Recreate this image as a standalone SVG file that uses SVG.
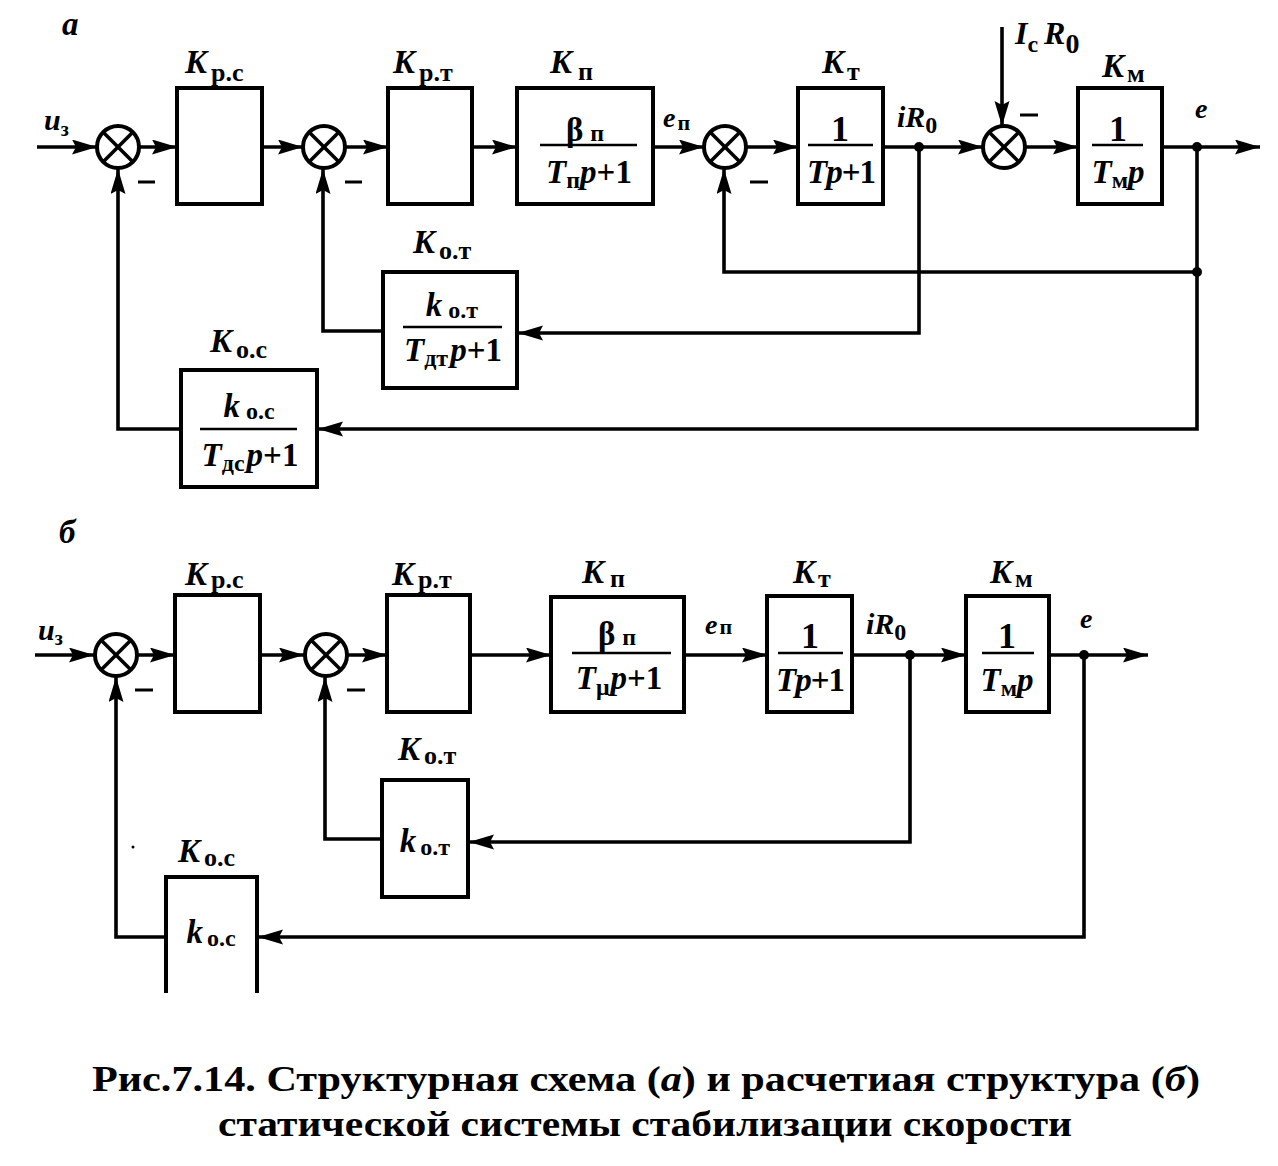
<svg xmlns="http://www.w3.org/2000/svg" width="1278" height="1166" viewBox="0 0 1278 1166">
<style>
.bg{fill:#fff}
.box{fill:none;stroke:#000;stroke-width:4}
.ln{fill:none;stroke:#000;stroke-width:3.6}
.arr{marker-end:url(#ah)}
.sum circle{fill:#fff;stroke:#000;stroke-width:4}
.sum line{stroke:#000;stroke-width:3.6}
.dot{fill:#000}
.minus{stroke:#000;stroke-width:3}
text{font-family:"Liberation Serif","DejaVu Serif",serif;font-weight:bold;fill:#000}
.it{font-style:italic}
.k{font-size:33px;font-style:italic}
.s{font-size:26px;font-style:normal}
.fr{font-size:33px}
.one{font-size:36px}
.fs{font-size:24px;font-style:normal}
.fl{stroke:#000;stroke-width:2.5}
.cap{font-size:35px}
</style>
<defs>
<marker id="ah" markerUnits="userSpaceOnUse" markerWidth="26" markerHeight="16" refX="25" refY="7.5" orient="auto">
<path d="M0,0 L25,7.5 L0,15 L4,7.5 z" fill="#000"/>
</marker>
</defs>
<rect class="bg" x="0" y="0" width="1278" height="1166"/>

<!-- ===================== Diagram a ===================== -->
<text class="k" x="62" y="35">a</text>

<g id="connectors-a">
<path class="ln arr" d="M37,147 H97"/>
<path class="ln arr" d="M139,147 H177"/>
<path class="ln arr" d="M262,147 H303"/>
<path class="ln arr" d="M345,147 H388"/>
<path class="ln arr" d="M472,147 H517"/>
<path class="ln arr" d="M653,147 H704"/>
<path class="ln arr" d="M746,147 H798"/>
<path class="ln arr" d="M883,147 H983"/>
<path class="ln arr" d="M1002,27 V126"/>
<path class="ln arr" d="M1025,147 H1078"/>
<path class="ln arr" d="M1162,147 H1260"/>
<path class="ln arr" d="M1197,147 V429 H318"/>
<path class="ln arr" d="M1197,272 H724 V169"/>
<path class="ln arr" d="M919,147 V333 H518"/>
<path class="ln arr" d="M383,331 H323 V169"/>
<path class="ln arr" d="M181,429 H118 V169"/>
<circle class="dot" cx="919" cy="147" r="5"/>
<circle class="dot" cx="1197" cy="147" r="5"/>
<circle class="dot" cx="1197" cy="272" r="5"/>
</g>

<g id="a-sum1" class="sum"><circle cx="118" cy="147" r="21"/><line x1="103" y1="132" x2="133" y2="162"/><line x1="133" y1="132" x2="103" y2="162"/></g>
<g id="a-sum2" class="sum"><circle cx="324" cy="147" r="21"/><line x1="309" y1="132" x2="339" y2="162"/><line x1="339" y1="132" x2="309" y2="162"/></g>
<g id="a-sum3" class="sum"><circle cx="725" cy="147" r="21"/><line x1="710" y1="132" x2="740" y2="162"/><line x1="740" y1="132" x2="710" y2="162"/></g>
<g id="a-sum4" class="sum"><circle cx="1004" cy="147" r="21"/><line x1="989" y1="132" x2="1019" y2="162"/><line x1="1019" y1="132" x2="989" y2="162"/></g>

<g id="a-minus">
<line class="minus" x1="138" y1="182" x2="155" y2="182"/>
<line class="minus" x1="345" y1="182" x2="362" y2="182"/>
<line class="minus" x1="750" y1="182" x2="768" y2="182"/>
<line class="minus" x1="1020" y1="115" x2="1038" y2="115"/>
</g>

<g id="a-signals">
<text class="k" x="44" y="130" style="font-size:30px">u<tspan class="s" dy="6" style="font-size:20px">з</tspan></text>
<text class="k" x="663" y="127" style="font-size:28px">e<tspan class="s" dy="3" dx="2" style="font-size:22px">п</tspan></text>
<text class="k" x="897" y="127" style="font-size:30px">iR<tspan class="s" dy="6" style="font-size:24px">0</tspan></text>
<text class="k" x="1195" y="118" style="font-size:28px">e</text>
<text class="k" x="1015" y="44" style="font-size:32px">I<tspan class="s" dy="8" style="font-size:24px">c</tspan><tspan dy="-8" dx="6">R</tspan><tspan class="s" dy="9" style="font-size:28px">0</tspan></text>
</g>

<g id="a-Kpc">
<rect class="box" x="177" y="88" width="85" height="116"/>
<text class="k" x="185" y="73">K<tspan class="s" dx="4" dy="8">р.с</tspan></text>
</g>
<g id="a-Kpt">
<rect class="box" x="388" y="88" width="84" height="116"/>
<text class="k" x="393" y="73">K<tspan class="s" dx="4" dy="8">р.т</tspan></text>
</g>
<g id="a-Kp">
<rect class="box" x="517" y="88" width="136" height="116"/>
<text class="k" x="550" y="73">K<tspan class="s" dx="6" dy="7">п</tspan></text>
<text class="fr" x="585" y="141" text-anchor="middle">β<tspan class="fs" dx="7">п</tspan></text>
<line class="fl" x1="540" y1="145" x2="637" y2="145"/>
<text class="fr" x="589" y="183" text-anchor="middle"><tspan class="it">T</tspan><tspan class="fs" dy="5">п</tspan><tspan class="it" dy="-5">p</tspan>+1</text>
</g>
<g id="a-Kt">
<rect class="box" x="798" y="88" width="85" height="116"/>
<text class="k" x="822" y="73">K<tspan class="s" dx="3" dy="7">т</tspan></text>
<text class="one" x="840" y="141" text-anchor="middle">1</text>
<line class="fl" x1="808" y1="145" x2="873" y2="145"/>
<text class="fr" x="841" y="183" text-anchor="middle" style="letter-spacing:-1px"><tspan class="it">Tp</tspan>+1</text>
</g>
<g id="a-Km">
<rect class="box" x="1078" y="88" width="84" height="116"/>
<text class="k" x="1102" y="77">K<tspan class="s" dx="3" dy="5">м</tspan></text>
<text class="one" x="1118" y="141" text-anchor="middle">1</text>
<line class="fl" x1="1092" y1="145" x2="1143" y2="145"/>
<text class="fr" x="1118" y="183" text-anchor="middle"><tspan class="it">T</tspan><tspan class="fs" dy="5">м</tspan><tspan class="it" dy="-5">p</tspan></text>
</g>
<g id="a-Kot">
<rect class="box" x="383" y="272" width="134" height="116"/>
<text class="k" x="413" y="253">K<tspan class="s" dx="4" dy="6">о.т</tspan></text>
<text class="fr" x="452" y="316" text-anchor="middle"><tspan class="it">k</tspan><tspan class="fs" dx="6" dy="2">о.т</tspan></text>
<line class="fl" x1="403" y1="327" x2="502" y2="327"/>
<text class="fr" x="453" y="361" text-anchor="middle"><tspan class="it">T</tspan><tspan class="fs" dy="5">дт</tspan><tspan class="it" dy="-5" dx="2">p</tspan>+1</text>
</g>
<g id="a-Koc">
<rect class="box" x="181" y="370" width="136" height="117"/>
<text class="k" x="210" y="352">K<tspan class="s" dx="4" dy="6">о.с</tspan></text>
<text class="fr" x="249" y="417" text-anchor="middle"><tspan class="it">k</tspan><tspan class="fs" dx="6" dy="2">о.с</tspan></text>
<line class="fl" x1="200" y1="429" x2="297" y2="429"/>
<text class="fr" x="250" y="466" text-anchor="middle"><tspan class="it">T</tspan><tspan class="fs" dy="5">дс</tspan><tspan class="it" dy="-5" dx="2">p</tspan>+1</text>
</g>

<!-- ===================== Diagram b ===================== -->
<text class="k" x="59" y="543">б</text>

<g id="connectors-b">
<path class="ln arr" d="M35,655 H94"/>
<path class="ln arr" d="M138,655 H175"/>
<path class="ln arr" d="M260,655 H304"/>
<path class="ln arr" d="M348,655 H387"/>
<path class="ln arr" d="M470,655 H551"/>
<path class="ln arr" d="M684,655 H767"/>
<path class="ln arr" d="M852,655 H966"/>
<path class="ln arr" d="M1049,655 H1148"/>
<path class="ln arr" d="M1084,655 V937 H258"/>
<path class="ln arr" d="M910,655 V842 H469"/>
<path class="ln arr" d="M382,839 H325 V677"/>
<path class="ln arr" d="M166,937 H116 V677"/>
<circle class="dot" cx="910" cy="655" r="5"/>
<circle class="dot" cx="1084" cy="655" r="5"/>
<circle class="dot" cx="133" cy="847" r="1.5"/>
</g>

<g id="b-sum1" class="sum"><circle cx="116" cy="655" r="21"/><line x1="101" y1="640" x2="131" y2="670"/><line x1="131" y1="640" x2="101" y2="670"/></g>
<g id="b-sum2" class="sum"><circle cx="326" cy="655" r="21"/><line x1="311" y1="640" x2="341" y2="670"/><line x1="341" y1="640" x2="311" y2="670"/></g>

<g id="b-minus">
<line class="minus" x1="135" y1="690" x2="153" y2="690"/>
<line class="minus" x1="347" y1="690" x2="365" y2="690"/>
</g>

<g id="b-signals">
<text class="k" x="38" y="640" style="font-size:30px">u<tspan class="s" dy="5" style="font-size:20px">з</tspan></text>
<text class="k" x="705" y="634" style="font-size:28px">e<tspan class="s" dy="0" dx="2" style="font-size:22px">п</tspan></text>
<text class="k" x="866" y="634" style="font-size:30px">iR<tspan class="s" dy="6" style="font-size:24px">0</tspan></text>
<text class="k" x="1080" y="628" style="font-size:28px">e</text>
</g>

<g id="b-Kpc">
<rect class="box" x="175" y="595" width="85" height="117"/>
<text class="k" x="185" y="585">K<tspan class="s" dx="4" dy="3">р.с</tspan></text>
</g>
<g id="b-Kpt">
<rect class="box" x="387" y="595" width="83" height="117"/>
<text class="k" x="392" y="585">K<tspan class="s" dx="4" dy="3">р.т</tspan></text>
</g>
<g id="b-Kp">
<rect class="box" x="551" y="597" width="133" height="115"/>
<text class="k" x="582" y="583">K<tspan class="s" dx="6" dy="4">п</tspan></text>
<text class="fr" x="617" y="645" text-anchor="middle">β<tspan class="fs" dx="7">п</tspan></text>
<line class="fl" x1="572" y1="653" x2="671" y2="653"/>
<text class="fr" x="619" y="689" text-anchor="middle"><tspan class="it">T</tspan><tspan class="fs" dy="6">μ</tspan><tspan class="it" dy="-6" dx="1">p</tspan>+1</text>
</g>
<g id="b-Kt">
<rect class="box" x="767" y="596" width="85" height="116"/>
<text class="k" x="793" y="583">K<tspan class="s" dx="3" dy="4">т</tspan></text>
<text class="one" x="810" y="648" text-anchor="middle">1</text>
<line class="fl" x1="778" y1="653" x2="843" y2="653"/>
<text class="fr" x="810" y="691" text-anchor="middle" style="letter-spacing:-1px"><tspan class="it">Tp</tspan>+1</text>
</g>
<g id="b-Km">
<rect class="box" x="966" y="596" width="83" height="116"/>
<text class="k" x="990" y="583">K<tspan class="s" dx="3" dy="4">м</tspan></text>
<text class="one" x="1007" y="648" text-anchor="middle">1</text>
<line class="fl" x1="982" y1="653" x2="1034" y2="653"/>
<text class="fr" x="1007" y="691" text-anchor="middle"><tspan class="it">T</tspan><tspan class="fs" dy="5">м</tspan><tspan class="it" dy="-5">p</tspan></text>
</g>
<g id="b-Kot">
<rect class="box" x="382" y="780" width="86" height="117"/>
<text class="k" x="398" y="760">K<tspan class="s" dx="4" dy="4">о.т</tspan></text>
<text class="fr" x="425" y="852" text-anchor="middle"><tspan class="it">k</tspan><tspan class="fs" dx="4" dy="3">о.т</tspan></text>
</g>
<g id="b-Koc">
<path class="box" d="M166,993 V877 H257 V993"/>
<text class="k" x="178" y="862">K<tspan class="s" dx="4" dy="4">о.с</tspan></text>
<text class="fr" x="211" y="943" text-anchor="middle"><tspan class="it">k</tspan><tspan class="fs" dx="4" dy="3">о.с</tspan></text>
</g>

<!-- ===================== Caption ===================== -->
<g id="caption">
<text class="cap" x="92" y="1091" textLength="1108" lengthAdjust="spacingAndGlyphs">Рис.7.14. Структурная схема (<tspan class="it">а</tspan>) и расчетиая структура (<tspan class="it">б</tspan>)</text>
<text class="cap" x="218" y="1136" textLength="854" lengthAdjust="spacingAndGlyphs">статической системы стабилизации скорости</text>
</g>
</svg>
